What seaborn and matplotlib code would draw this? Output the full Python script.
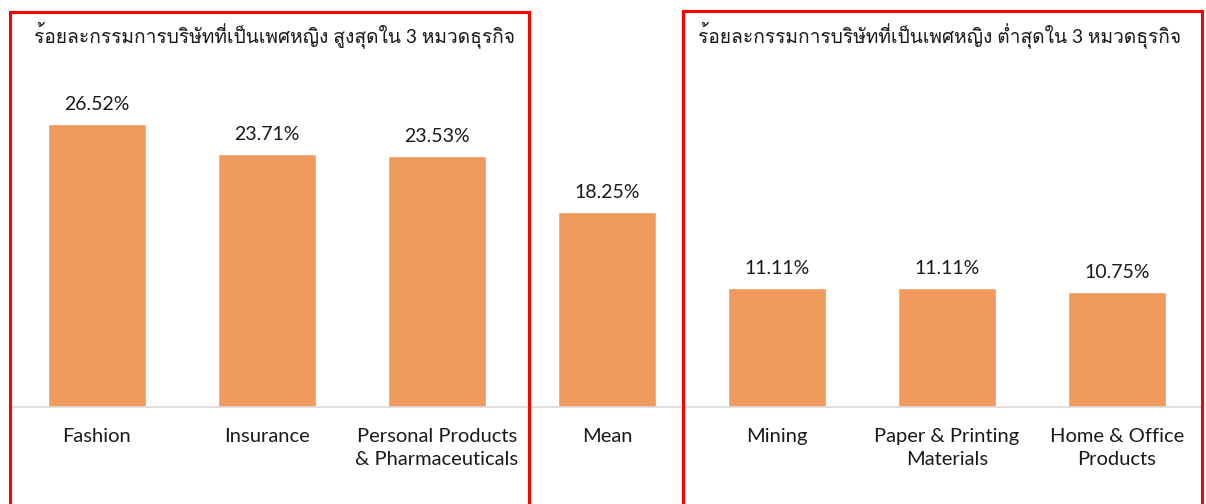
import matplotlib
matplotlib.use("Agg")
import matplotlib.pyplot as plt
from matplotlib import font_manager
from matplotlib.ft2font import FT2Font
import seaborn as sns
import pandas as pd
from matplotlib.patches import Rectangle

categories = ["Fashion", "Insurance", "Personal Products\n& Pharmaceuticals", "Mean",
              "Mining", "Paper & Printing\nMaterials", "Home & Office\nProducts"]
values = [26.52, 23.71, 23.53, 18.25, 11.11, 11.11, 10.75]
title_left = "ร้อยละกรรมการบริษัทที่เป็นเพศหญิง สูงสุดใน 3 หมวดธุรกิจ"
title_right = "ร้อยละกรรมการบริษัทที่เป็นเพศหญิง ต่ำสุดใน 3 หมวดธุรกิจ"

df = pd.DataFrame({"category": categories, "value": values})

# look for any installed family that has Thai glyphs
thai_families = []
for f in font_manager.fontManager.ttflist:
    try:
        cmap = FT2Font(f.fname).get_charmap()
    except Exception:
        continue
    if ord("ร") in cmap and ord("ญ") in cmap and f.name not in thai_families:
        thai_families.append(f.name)

sns.set_theme(style="white")
plt.rcParams["font.family"] = ["Lato"] + thai_families + ["DejaVu Sans"]

W, H = 1206, 504
fig = plt.figure(figsize=(W / 100, H / 100), dpi=100)
ax = fig.add_axes([12 / W, 97 / H, 1190 / W, 407 / H])

sns.barplot(data=df, x="category", y="value", color="#F19A5E", saturation=1,
            width=0.58, ax=ax)

ax.set_xlim(-0.5, 6.5)
ax.set_ylim(0, 38.14)
ax.set_xlabel("")
ax.set_ylabel("")
ax.set_yticks([])
for s in ["top", "left", "right"]:
    ax.spines[s].set_visible(False)
ax.spines["bottom"].set_color("#D9D9D9")
ax.spines["bottom"].set_linewidth(1.2)
ax.tick_params(axis="x", length=0, pad=15, labelsize=14.5, colors="#1a1a1a")
for lbl in ax.get_xticklabels():
    lbl.set_linespacing(1.42)
    lbl.set_va("top")

for i, v in enumerate(values):
    ax.annotate(f"{v:.2f}%", (i, v), xytext=(0, 8), textcoords="offset points",
                ha="center", va="bottom", fontsize=14, color="#1a1a1a")

# red frames (figure pixel coords)
def frame(x0, x1, y0):
    r = Rectangle((x0 / W, -0.05), (x1 - x0) / W, (H - y0) / H + 0.05,
                  transform=fig.transFigure, fill=False, edgecolor="#FF0000",
                  linewidth=2.2, clip_on=False)
    fig.add_artist(r)

frame(10, 529, 12)
frame(683, 1202, 11)

fig.text(274 / W, 1 - 35 / H, title_left, ha="center", va="center", fontsize=13.8,
         color="#1a1a1a")
fig.text(940 / W, 1 - 35 / H, title_right, ha="center", va="center", fontsize=13.8,
         color="#1a1a1a")

fig.savefig("out.png", dpi=100)
